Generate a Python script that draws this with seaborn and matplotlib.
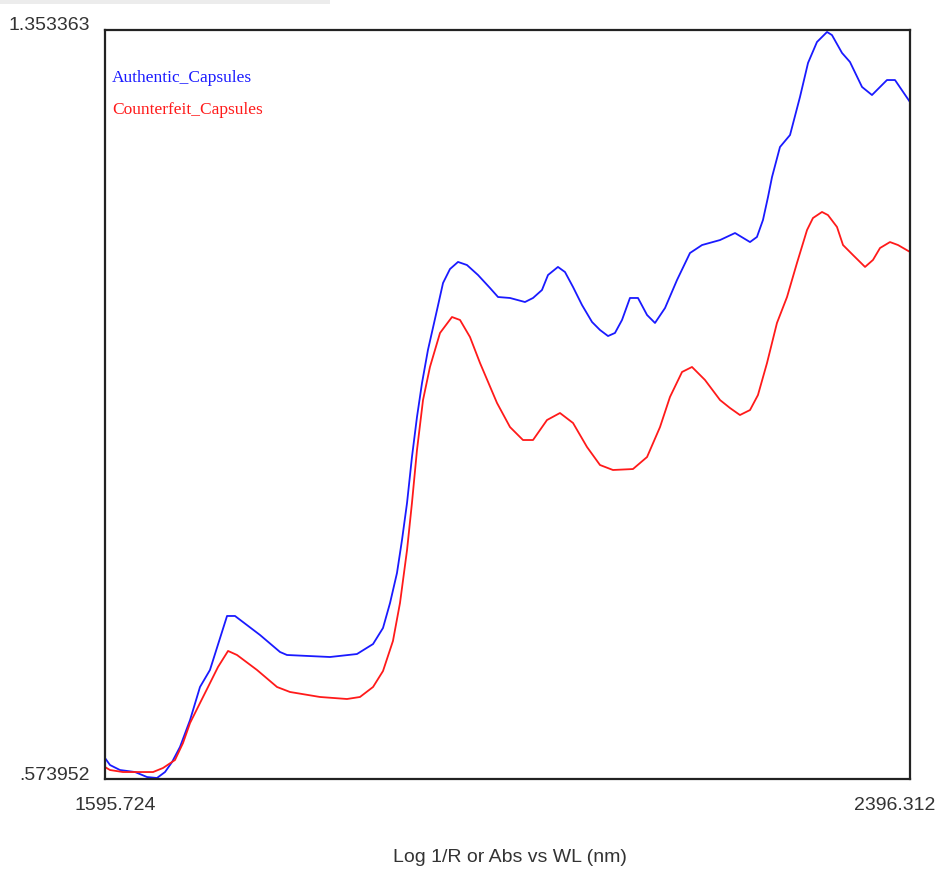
import numpy as np
import pandas as pd
import matplotlib
matplotlib.use("Agg")
import matplotlib.pyplot as plt
from matplotlib.patches import Rectangle
import seaborn as sns

# Espectros NIR (Log 1/R)
wl_authentic = [1595.7, 1600.7, 1610.6, 1625.6, 1637.5, 1647.4, 1655.4, 1662.4, 1670.3, 1680.3,
                1690.2, 1700.1, 1717.1, 1725.0, 1749.9, 1769.8, 1776.7, 1819.5, 1846.3, 1862.3,
                1872.2, 1879.2, 1886.1, 1891.1, 1896.1, 1901.0, 1906.0, 1911.0, 1916.9, 1925.9,
                1931.9, 1938.8, 1946.8, 1955.7, 1966.7, 1978.6, 1986.6, 1998.5, 2013.4, 2021.4,
                2030.3, 2036.3, 2046.2, 2053.2, 2061.2, 2070.1, 2080.1, 2088.0, 2096.0, 2102.9,
                2109.9, 2117.8, 2125.8, 2134.8, 2142.7, 2152.7, 2164.6, 2177.5, 2189.5, 2207.4,
                2222.3, 2237.2, 2244.1, 2250.1, 2255.1, 2259.1, 2267.0, 2277.0, 2286.9, 2294.9,
                2303.8, 2313.8, 2318.7, 2328.7, 2336.6, 2348.6, 2358.5, 2373.4, 2381.4, 2396.3]
abs_authentic = [0.5958, 0.5885, 0.5833, 0.5812, 0.5760, 0.5750, 0.5812, 0.5916, 0.6073, 0.6353,
                 0.6697, 0.6874, 0.7436, 0.7436, 0.7238, 0.7061, 0.7030, 0.7009, 0.7040, 0.7144,
                 0.7311, 0.7571, 0.7883, 0.8227, 0.8612, 0.9090, 0.9507, 0.9860, 1.0204, 1.0620,
                 1.0901, 1.1046, 1.1120, 1.1088, 1.0984, 1.0849, 1.0755, 1.0745, 1.0703, 1.0745,
                 1.0828, 1.0984, 1.1068, 1.1015, 1.0859, 1.0672, 1.0495, 1.0412, 1.0349, 1.0381,
                 1.0516, 1.0745, 1.0745, 1.0568, 1.0485, 1.0641, 1.0932, 1.1213, 1.1296, 1.1348,
                 1.1421, 1.1327, 1.1380, 1.1557, 1.1796, 1.2004, 1.2316, 1.2441, 1.2837, 1.3191,
                 1.3409, 1.3513, 1.3481, 1.3295, 1.3201, 1.2941, 1.2857, 1.3013, 1.3013, 1.2784]

wl_counterfeit = [1595.7, 1600.7, 1613.6, 1643.5, 1653.4, 1665.3, 1673.3, 1680.3, 1690.2, 1698.2,
                  1708.1, 1718.1, 1727.0, 1746.9, 1766.8, 1779.7, 1809.5, 1836.4, 1849.3, 1862.3,
                  1872.2, 1882.1, 1889.1, 1896.1, 1901.0, 1906.0, 1912.0, 1918.9, 1928.9, 1940.8,
                  1948.8, 1958.7, 1968.7, 1985.6, 1998.5, 2011.4, 2021.4, 2035.3, 2048.2, 2061.2,
                  2075.1, 2088.0, 2100.9, 2120.8, 2134.8, 2147.7, 2157.6, 2169.6, 2179.5, 2192.4,
                  2207.4, 2217.3, 2227.2, 2237.2, 2245.1, 2254.1, 2264.0, 2274.0, 2283.9, 2293.9,
                  2299.8, 2308.8, 2314.7, 2323.7, 2329.7, 2339.6, 2351.6, 2359.5, 2366.5, 2376.4,
                  2384.4, 2396.3]
abs_counterfeit = [0.5864, 0.5833, 0.5812, 0.5812, 0.5854, 0.5937, 0.6114, 0.6322, 0.6530, 0.6697,
                   0.6905, 0.7072, 0.7030, 0.6874, 0.6697, 0.6645, 0.6593, 0.6572, 0.6593, 0.6697,
                   0.6863, 0.7176, 0.7571, 0.8122, 0.8612, 0.9163, 0.9683, 1.0027, 1.0381, 1.0547,
                   1.0516, 1.0339, 1.0068, 0.9652, 0.9402, 0.9267, 0.9267, 0.9475, 0.9548, 0.9444,
                   0.9194, 0.9007, 0.8955, 0.8965, 0.9090, 0.9402, 0.9715, 0.9975, 1.0027, 0.9892,
                   0.9683, 0.9600, 0.9527, 0.9579, 0.9735, 1.0068, 1.0485, 1.0755, 1.1109, 1.1452,
                   1.1577, 1.1640, 1.1608, 1.1484, 1.1296, 1.1192, 1.1068, 1.1141, 1.1265, 1.1327,
                   1.1296, 1.1224]

series_names = ["Authentic_Capsules", "Counterfeit_Capsules"]
series_colors = ["#1a1aff", "#ff1a1a"]
x_min, x_max = 1595.724, 2396.312
y_min, y_max = 0.573952, 1.353363

df = pd.concat([
    pd.DataFrame({"wl": wl_authentic, "abs": abs_authentic, "sample": series_names[0]}),
    pd.DataFrame({"wl": wl_counterfeit, "abs": abs_counterfeit, "sample": series_names[1]}),
], ignore_index=True)

sns.set_style("white")
plt.rcParams["font.family"] = ["Liberation Sans", "DejaVu Sans"]

fig = plt.figure(figsize=(9.37, 8.76), dpi=100)
ax = fig.add_axes([105 / 937, 1 - 779 / 876, 805 / 937, 749 / 876])

sns.lineplot(data=df, x="wl", y="abs", hue="sample", palette=dict(zip(series_names, series_colors)),
             linewidth=1.3, legend=False, sort=False, ax=ax)

ax.set_xlim(x_min, x_max)
ax.set_ylim(y_min, y_max)
ax.set_xticks([])
ax.set_yticks([])
ax.set_xlabel("")
ax.set_ylabel("")
for sp in ax.spines.values():
    sp.set_color("#222222")
    sp.set_linewidth(1.6)

# legenda como texto colorido
for i, (name, col) in enumerate(zip(series_names, series_colors)):
    ax.text(7 / 805, 1 - (48 + i * 32) / 749, name, color=col, transform=ax.transAxes,
            fontsize=12.5, family="Liberation Serif", va="center", ha="left")

# rotulos dos limites
fig.text(90 / 937, 1 - 25 / 876, f"{y_max:.6f}", ha="right", va="center", fontsize=14, color="#333333")
fig.text(90 / 937, 1 - 775 / 876, f"{y_min:.6f}".lstrip("0"), ha="right", va="center", fontsize=14, color="#333333")
fig.text(115 / 937, 1 - 805 / 876, f"{x_min:.3f}", ha="center", va="center", fontsize=14, color="#333333")
fig.text(895 / 937, 1 - 805 / 876, f"{x_max:.3f}", ha="center", va="center", fontsize=14, color="#333333")
fig.text(510 / 937, 1 - 857 / 876, "Log 1/R or Abs vs WL (nm)", ha="center", va="center", fontsize=14, color="#333333")

# barra cinza no topo
fig.patches.append(Rectangle((0, 1 - 4 / 876), 330 / 937, 4 / 876, transform=fig.transFigure,
                             facecolor="#ececec", edgecolor="none"))

fig.savefig("out.png", dpi=100)
